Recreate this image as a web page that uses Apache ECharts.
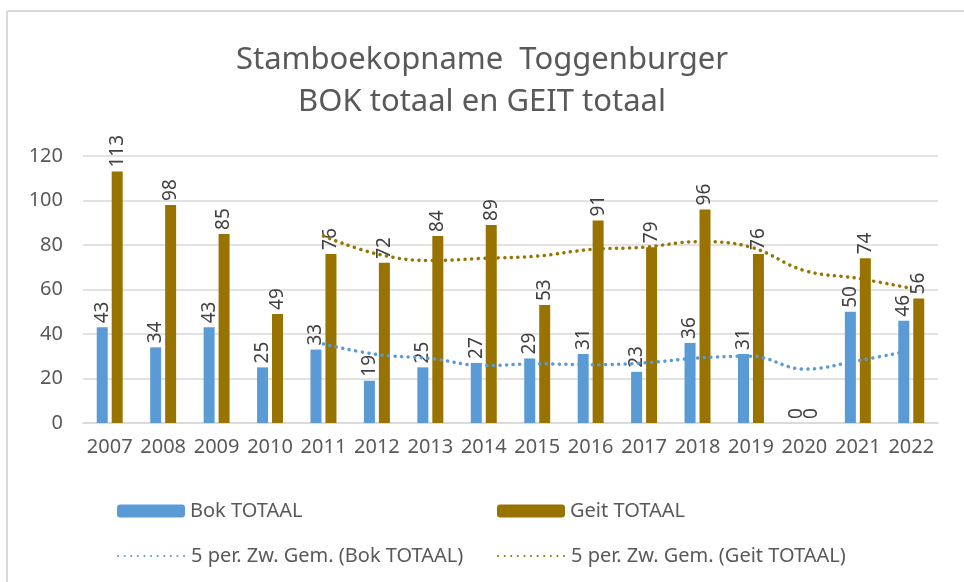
<!DOCTYPE html>
<html>
<head>
<meta charset="utf-8">
<title>Stamboekopname Toggenburger</title>
<script src="https://cdn.jsdelivr.net/npm/echarts@6/dist/echarts.min.js"></script>
<style>
  html, body { margin: 0; padding: 0; background: #fff; }
  #chart { width: 964px; height: 582px; }
</style>
</head>
<body>
<div id="chart"></div>
<script>
// jaren en waarden
const years = ['2007', '2008', '2009', '2010', '2011', '2012', '2013', '2014',
  '2015', '2016', '2017', '2018', '2019', '2020', '2021', '2022']
const bokTotaal = [43, 34, 43, 25, 33, 19, 25, 27, 29, 31, 23, 36, 31, 0, 50, 46]
const geitTotaal = [113, 98, 85, 49, 76, 72, 84, 89, 53, 91, 79, 96, 76, 0, 74, 56]
// zwevend gemiddelde (5 per.), geschat uit de stippellijnen
const bokGem = [null, null, null, null, 35.5, 30.8, 29, 25.8, 26.6, 26.2, 27, 29.2, 30, 24.2, 28, 32.6]
const geitGem = [null, null, null, null, 84, 76, 73, 74, 75, 78, 79, 81.5, 79, 68.5, 65, 60.5]
const yTicks = [0, 20, 40, 60, 80, 100, 120]

const blue = '#5b9bd5'
const gold = '#997300'
const textColor = '#595959'
const font = 'Noto Sans'

const chart = echarts.init(document.getElementById('chart'))

const barLabel = {
  show: true,
  position: 'top',
  rotate: 90,
  align: 'left',
  verticalAlign: 'middle',
  distance: 4,
  fontFamily: font,
  fontSize: 19,
  color: '#404040'
}

const legendBase = {
  selectedMode: false,
  padding: 0,
  itemWidth: 68,
  itemHeight: 13,
  itemStyle: { opacity: 0 },
  textStyle: { fontFamily: font, fontSize: 20, color: textColor }
}

const option = {
  backgroundColor: '#fff',
  animation: false,
  title: {
    text: 'Stamboekopname  Toggenburger\nBOK totaal en GEIT totaal',
    left: 'center',
    top: 34,
    textStyle: {
      fontFamily: font,
      fontSize: 31,
      fontWeight: 'normal',
      color: textColor,
      lineHeight: 42
    }
  },
  graphic: [
    { type: 'line', shape: { x1: 7, y1: 11, x2: 964, y2: 11 }, style: { stroke: '#d9d9d9', lineWidth: 2 } },
    { type: 'line', shape: { x1: 7, y1: 11, x2: 7, y2: 582 }, style: { stroke: '#d9d9d9', lineWidth: 2 } }
  ],
  legend: [
    Object.assign({}, legendBase, { left: 117, top: 501, data: [{ name: 'Bok TOTAAL', itemStyle: { opacity: 1 } }] }),
    Object.assign({}, legendBase, { left: 497, top: 501, data: [{ name: 'Geit TOTAAL', itemStyle: { opacity: 1 } }] }),
    Object.assign({}, legendBase, { left: 117, top: 546, data: ['5 per. Zw. Gem. (Bok TOTAAL)'] }),
    Object.assign({}, legendBase, { left: 497, top: 546, data: ['5 per. Zw. Gem. (Geit TOTAAL)'] })
  ],
  grid: {
    left: 83,
    right: 26,
    top: 156,
    bottom: 159
  },
  xAxis: {
    type: 'category',
    data: years,
    axisLine: { lineStyle: { color: '#d9d9d9', width: 1.5 } },
    axisTick: { show: false },
    axisLabel: {
      interval: 0,
      margin: 14,
      fontFamily: font,
      fontSize: 20,
      color: textColor
    }
  },
  yAxis: {
    type: 'value',
    min: yTicks[0],
    max: yTicks[yTicks.length - 1],
    interval: 20,
    axisLine: { show: false },
    axisTick: { show: false },
    splitLine: { lineStyle: { color: '#d9d9d9', width: 1.5 } },
    axisLabel: {
      margin: 20,
      fontFamily: font,
      fontSize: 20,
      color: textColor
    }
  },
  series: [
    {
      name: 'Bok TOTAAL',
      type: 'bar',
      data: bokTotaal,
      barWidth: 11,
      barGap: '36%',
      itemStyle: { color: blue },
      label: barLabel
    },
    {
      name: 'Geit TOTAAL',
      type: 'bar',
      data: geitTotaal,
      barWidth: 11,
      barGap: '36%',
      itemStyle: { color: gold },
      label: barLabel
    },
    {
      name: '5 per. Zw. Gem. (Bok TOTAAL)',
      type: 'line',
      data: bokGem,
      smooth: 0.4,
      symbol: 'none',
      lineStyle: { color: blue, width: 3.5, type: [0.1, 6.5], cap: 'round' },
      itemStyle: { color: blue },
      z: 5
    },
    {
      name: '5 per. Zw. Gem. (Geit TOTAAL)',
      type: 'line',
      data: geitGem,
      smooth: 0.4,
      symbol: 'none',
      lineStyle: { color: gold, width: 3.5, type: [0.1, 6.5], cap: 'round' },
      itemStyle: { color: gold },
      z: 5
    }
  ]
}

chart.setOption(option)
</script>
</body>
</html>
